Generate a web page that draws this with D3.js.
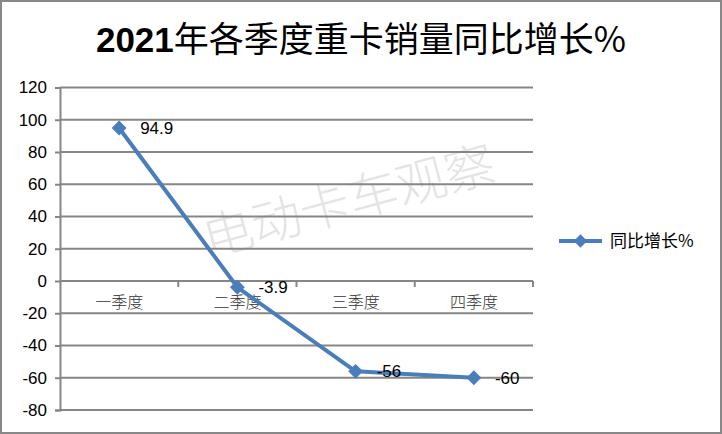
<!DOCTYPE html>
<html><head><meta charset="utf-8">
<script src="https://cdn.jsdelivr.net/npm/d3@7"></script>
<style>body{margin:0;background:#fff}svg{display:block}</style>
</head><body>
<script>
const categories = ["一季度","二季度","三季度","四季度"];
const values = [94.9, -3.9, -56, -60];
const valueLabels = ["94.9","-3.9","-56","-60"];
const yTicks = [120,100,80,60,40,20,0,-20,-40,-60,-80];
const seriesName = "同比增长%";
const titleNum = "2021", titleRest = "年各季度重卡销量同比增长%";

(function(){
const W = 722, H = 434;
const svg = d3.select("body").append("svg").attr("width", W).attr("height", H);
svg.append("rect").attr("x",1).attr("y",1).attr("width",W-2).attr("height",H-2)
  .attr("fill","#fff").attr("stroke","#888").attr("stroke-width",2);

const pL = 60, pR = 533, pT = 87.5, pB = 410;
const x = d3.scaleBand().domain(categories).range([pL, pR]);
const y = d3.scaleLinear().domain([-80,120]).range([pB, pT]);
const font = "'Noto Sans CJK SC', 'Liberation Sans', sans-serif";
const numFont = "'Liberation Sans', Arial, sans-serif";

// watermark
svg.append("text").attr("transform","translate(350,205) rotate(-15)")
  .attr("text-anchor","middle").attr("dominant-baseline","middle")
  .attr("font-family",font).attr("font-size",50).attr("font-weight",300).attr("fill","#e4e4e4")
  .text("电动卡车观察");

// gridlines
svg.append("g").selectAll("line").data(yTicks).join("line")
  .attr("x1",pL).attr("x2",pR).attr("y1",d=>y(d)).attr("y2",d=>y(d))
  .attr("stroke","#868686").attr("stroke-width",2);

// y axis
const ya = svg.append("g").attr("transform",`translate(${pL},0)`)
  .call(d3.axisLeft(y).tickValues(yTicks).tickFormat(d=>String(d)).tickSize(5).tickPadding(8));
ya.select(".domain").attr("stroke","#868686").attr("stroke-width",2);
ya.selectAll(".tick line").attr("stroke","#868686").attr("stroke-width",2);
ya.selectAll("text").attr("font-family",numFont).attr("font-size",17).attr("fill","#000");

// x axis at zero
const xa = svg.append("g").attr("transform",`translate(0,${y(0)})`)
  .call(d3.axisBottom(x).tickSize(0).tickPadding(16));
xa.select(".domain").remove();
xa.selectAll("text").attr("font-family",font).attr("font-size",16).attr("fill","#333").attr("font-weight",300);
svg.append("g").selectAll("line").data(categories).join("line")
  .attr("x1",d=>x(d)+x.bandwidth()).attr("x2",d=>x(d)+x.bandwidth())
  .attr("y1",y(0)).attr("y2",y(0)+6).attr("stroke","#868686").attr("stroke-width",2);

// line
const cx = d => x(d) + x.bandwidth()/2;
const pts = categories.map((c,i)=>[cx(c), y(values[i])]);
svg.append("path").attr("d", d3.line()(pts)).attr("fill","none")
  .attr("stroke","#4A7EBB").attr("stroke-width",4).attr("stroke-linejoin","round");
svg.append("g").selectAll("path").data(pts).join("path")
  .attr("d", d3.symbol().type(d3.symbolSquare).size(110))
  .attr("transform",d=>`translate(${d[0]},${d[1]}) rotate(45)`)
  .attr("fill","#4A7EBB");

// labels
svg.append("g").selectAll("text").data(pts).join("text")
  .attr("x",d=>d[0]+21).attr("y",d=>d[1]).attr("dy","0.35em")
  .attr("font-family",numFont).attr("font-size",17).attr("fill","#000")
  .text((d,i)=>valueLabels[i]);

// title
const t = svg.append("text").attr("x",361).attr("y",52).attr("text-anchor","middle")
  .attr("font-family",font).attr("font-size",35).attr("fill","#000");
t.append("tspan").attr("font-weight","bold").attr("font-family",numFont).text(titleNum);
t.append("tspan").attr("font-weight",400).text(titleRest);

// legend
const lg = svg.append("g").attr("transform","translate(559,241)");
lg.append("line").attr("x1",0).attr("x2",43).attr("stroke","#4A7EBB").attr("stroke-width",4);
lg.append("path").attr("transform","translate(21.5,0) rotate(45)").attr("d", d3.symbol().type(d3.symbolSquare).size(90)).attr("fill","#4A7EBB");
lg.append("text").attr("x",51).attr("dy","0.35em").attr("font-family",font).attr("font-size",17).attr("fill","#000").text(seriesName);
})();
</script>
</body></html>
